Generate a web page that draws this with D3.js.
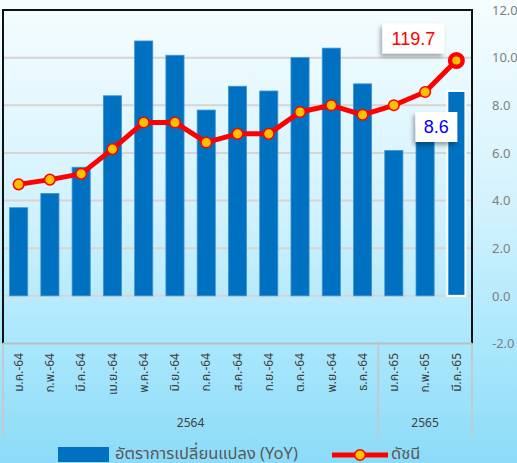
<!DOCTYPE html>
<html><head><meta charset="utf-8">
<script src="https://cdn.jsdelivr.net/npm/d3@7/dist/d3.min.js"></script>
<style>
html,body{margin:0;padding:0;overflow:hidden;}
svg{display:block;}
</style></head>
<body>
<svg id="c" width="517" height="463"></svg>
<script>
const categories = ["ม.ค.-64","ก.พ.-64","มี.ค.-64","เม.ย.-64","พ.ค.-64","มิ.ย.-64","ก.ค.-64","ส.ค.-64","ก.ย.-64","ต.ค.-64","พ.ย.-64","ธ.ค.-64","ม.ค.-65","ก.พ.-65","มี.ค.-65"];
const yoyValues = [3.7,4.3,5.4,8.4,10.7,10.1,7.8,8.8,8.6,10.0,10.4,8.9,6.1,7.1,8.6];
const indexValues = [106.7,107.2,107.8,110.4,113.2,113.2,111.1,112.0,112.0,114.3,115.0,114.0,115.0,116.4,119.7];
const yearGroups = [{label:"2564", from:0, to:11},{label:"2565", from:12, to:14}];
const yTicks = [-2,0,2,4,6,8,10,12];
const legendLabels = ["อัตราการเปลี่ยนแปลง (YoY)","ดัชนี"];

const FONT = "Tahoma, 'Noto Sans Thai', 'Leelawadee UI', 'Noto Sans', 'DejaVu Sans', sans-serif";
const svg = d3.select("#c");
const W = 517, H = 463;
const L = 3, R = 472, T = 10, B = 343.5;

const defs = svg.append("defs");
const bg = defs.append("linearGradient").attr("id","bg").attr("x1",0).attr("y1",0).attr("x2",0).attr("y2",1);
bg.append("stop").attr("offset","0%").attr("stop-color","#f6fdff");
bg.append("stop").attr("offset","45%").attr("stop-color","#d2f2fd");
bg.append("stop").attr("offset","75%").attr("stop-color","#a9e7fc");
bg.append("stop").attr("offset","100%").attr("stop-color","#8cdbf8");
const sh = defs.append("filter").attr("id","sh").attr("x","-30%").attr("y","-30%").attr("width","160%").attr("height","170%");
sh.append("feDropShadow").attr("dx",-2).attr("dy",3).attr("stdDeviation",2).attr("flood-color","#000").attr("flood-opacity",0.35);

svg.append("rect").attr("width",W).attr("height",H).attr("fill","url(#bg)");

const x = d3.scaleBand().domain(categories).range([L,R]).paddingInner(0.42).paddingOuter(0.21);
const y = d3.scaleLinear().domain([-2,12]).range([B,T]);
const y2 = d3.scaleLinear().domain([90,125]).range([B,T]);
const cx = d => x(d) + x.bandwidth()/2;

// gridlines
svg.append("g").selectAll("line").data(yTicks.filter(t=>t>=0 && t<12)).join("line")
  .attr("x1",L).attr("x2",R).attr("y1",d=>y(d)).attr("y2",d=>y(d))
  .attr("stroke","#d9d3d3").attr("stroke-width",2);

// right axis
const ax = d3.axisRight(y).tickValues(yTicks).tickFormat(d3.format(".1f")).tickSize(0).tickPadding(0);
const gA = svg.append("g").attr("transform",`translate(492,0)`).call(ax);
gA.select(".domain").remove();
gA.selectAll("text").attr("fill","#7f7f7f").style("font-family",FONT).style("font-size","13px");

// bars
svg.append("g").selectAll("rect").data(categories).join("rect")
  .attr("x",d=>x(d)).attr("width",x.bandwidth())
  .attr("y",(d,i)=>y(yoyValues[i])).attr("height",(d,i)=>y(0)-y(yoyValues[i]))
  .attr("fill","#0070c0").attr("stroke",(d,i)=> i===categories.length-1 ? "#ffffff" : "#3f94d6")
  .attr("stroke-width",(d,i)=> i===categories.length-1 ? 2 : 0.8);

// plot border
svg.append("path").attr("d",`M${L},${B}V${T}H${R}V${B}`).attr("fill","none").attr("stroke","#111").attr("stroke-width",2);
// x axis line
svg.append("line").attr("x1",L).attr("x2",R).attr("y1",B).attr("y2",B).attr("stroke","#b8bec2").attr("stroke-width",2);

// category separators
const seps = [0, ...yearGroups.map(g=>g.to+1)];
svg.append("g").selectAll("line").data(seps).join("line")
  .attr("x1",d=>L+d*(R-L)/categories.length).attr("x2",d=>L+d*(R-L)/categories.length)
  .attr("y1",B).attr("y2",437).attr("stroke","#c3cacd").attr("stroke-width",2);

// category labels
svg.append("g").selectAll("text").data(categories).join("text")
  .attr("transform",d=>`translate(${cx(d)},353) rotate(-90)`)
  .attr("text-anchor","end").attr("dy","0.35em")
  .attr("fill","#404040").style("font-family",FONT).style("font-size","12px")
  .text(d=>d);

// year labels
svg.append("g").selectAll("text").data(yearGroups).join("text")
  .attr("x",g=>L+(g.from+g.to+1)/2*(R-L)/categories.length).attr("y",427)
  .attr("text-anchor","middle").attr("fill","#404040").style("font-family",FONT).style("font-size","12px")
  .text(g=>g.label);

// line
const line = d3.line().x((d,i)=>cx(categories[i])).y(d=>y2(d));
svg.append("path").datum(indexValues).attr("d",line).attr("fill","none")
  .attr("stroke","#ff0000").attr("stroke-width",5).attr("stroke-linejoin","round");
const n = indexValues.length;
svg.append("g").selectAll("circle").data(indexValues).join("circle")
  .attr("cx",(d,i)=>cx(categories[i])).attr("cy",d=>y2(d))
  .attr("r",(d,i)=> i===n-1 ? 6.3 : 5.3)
  .attr("fill","#ffc000").attr("stroke","#ff0000")
  .attr("stroke-width",(d,i)=> i===n-1 ? 4.5 : 1.5);

// data labels
const lastCat = categories[n-1];
const lx1 = cx(lastCat) - 43, ly1 = y2(indexValues[n-1]) - 22;
svg.append("rect").attr("x",lx1-31).attr("y",ly1-15).attr("width",62).attr("height",30).attr("fill","#fff").attr("filter","url(#sh)");
svg.append("text").attr("x",lx1).attr("y",ly1+6.5).attr("text-anchor","middle").attr("fill","#ff0000")
  .style("font-family","'Liberation Sans', Arial, sans-serif").style("font-size","18px").text(d3.format(".1f")(indexValues[n-1]));
const lx2 = cx(lastCat) - 20, ly2 = y(yoyValues[n-1]) + 36;
svg.append("rect").attr("x",lx2-21).attr("y",ly2-15).attr("width",42).attr("height",30).attr("fill","#fff").attr("filter","url(#sh)");
svg.append("text").attr("x",lx2).attr("y",ly2+6.5).attr("text-anchor","middle").attr("fill","#0000ff")
  .style("font-family","'Liberation Sans', Arial, sans-serif").style("font-size","18px").text(d3.format(".1f")(yoyValues[n-1]));

// legend
const lg = svg.append("g");
lg.append("rect").attr("x",58).attr("y",447).attr("width",51).attr("height",15).attr("fill","#0070c0");
lg.append("text").attr("x",115).attr("y",459).attr("fill","#595959").style("font-family",FONT).style("font-size","16.5px").text(legendLabels[0]);
lg.append("line").attr("x1",332).attr("x2",388).attr("y1",455).attr("y2",455).attr("stroke","#ff0000").attr("stroke-width",5);
lg.append("circle").attr("cx",360).attr("cy",455).attr("r",5.3).attr("fill","#ffc000").attr("stroke","#ff0000").attr("stroke-width",1.5);
lg.append("text").attr("x",391).attr("y",459).attr("fill","#595959").style("font-family",FONT).style("font-size","16.5px").text(legendLabels[1]);
</script>
</body></html>
